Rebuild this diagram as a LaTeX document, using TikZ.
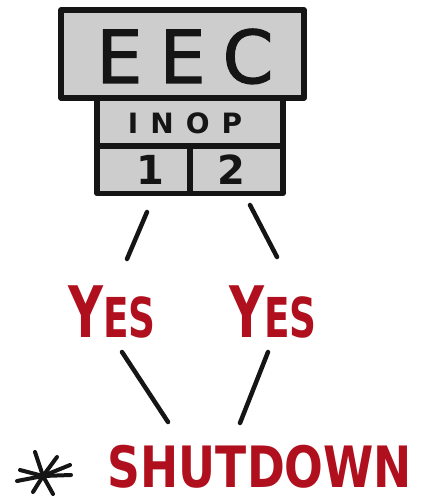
\documentclass[tikz,border=0pt]{standalone}
\usepackage{fontspec}
\setmainfont{DejaVu Sans}
\newfontfamily\eecfont[FakeBold=1.6]{DejaVu Sans}
\newfontfamily\yesfont[FakeStretch=0.68]{DejaVu Sans}
\newfontfamily\shutfont[FakeStretch=0.80]{DejaVu Sans}
\definecolor{boxgray}{HTML}{CDCDCD}
\definecolor{inkred}{HTML}{B0101E}
\definecolor{ink}{HTML}{151515}
\tikzset{
  panel/.style={draw=ink, line width=5.5pt, fill=boxgray, line join=round},
  stroke/.style={draw=ink, line width=4.5pt, line cap=round},
  redtxt/.style={text=inkred, inner sep=0pt},
  boxtxt/.style={text=ink, inner sep=0pt}
}
\begin{document}
\begin{tikzpicture}[x=1pt,y=-1pt]
\useasboundingbox (0,0) rectangle (425,502);
% boxes
\node[panel, minimum width=186pt, minimum height=95pt, inner sep=0pt] (inop) at (190,146) {};
\node[panel, minimum width=243pt, minimum height=88pt, inner sep=0pt] (eec) at (182.5,54) {};
\draw[draw=ink, line width=5.5pt] (inop.west |- 0,146) coordinate (hl) -- (inop.east |- 0,146) coordinate (hr);
\coordinate (vt) at (190,146);
\draw[draw=ink, line width=5.5pt] (vt) -- (vt |- inop.south);
% texts
\node[boxtxt, anchor=base, font=\eecfont\fontsize{73}{73}\selectfont] (eectxt) at (185,83) {E\hspace{17pt}E\hspace{17pt}C};
\node[boxtxt, anchor=base, font=\bfseries\fontsize{28}{28}\selectfont] (inoptxt) at (185,134) {I\hspace{12pt}N\hspace{12pt}O\hspace{12pt}P};
\node[boxtxt, anchor=base, font=\bfseries\fontsize{40}{40}\selectfont] (one) at (150,185) {1};
\node[boxtxt, anchor=base, font=\bfseries\fontsize{40}{40}\selectfont] (two) at (231,185) {2};
\node[redtxt, anchor=base, font=\yesfont\bfseries] (yes1) at (112,337) {\fontsize{71}{71}\selectfont Y\fontsize{55}{55}\selectfont ES};
\node[redtxt, anchor=base, font=\yesfont\bfseries] (yes2) at (273,337) {\fontsize{71}{71}\selectfont Y\fontsize{55}{55}\selectfont ES};
\node[redtxt, anchor=base, font=\shutfont\bfseries\fontsize{57}{57}\selectfont] (shut) at (260,487) {SHUTDOWN};
% connectors
\coordinate (a1) at (147,212); \coordinate (b1) at (127,259);
\coordinate (a2) at (250,205); \coordinate (b2) at (277,257);
\coordinate (c1) at (122,352); \coordinate (d1) at (168,422);
\coordinate (c2) at (268,352); \coordinate (d2) at (240,423);
\draw[stroke] (a1) -- (b1);
\draw[stroke] (a2) -- (b2);
\draw[stroke] (c1) -- (d1);
\draw[stroke] (c2) -- (d2);
% asterisk
\coordinate (star) at (43,476);
\foreach \px/\py in {35/452, 57/457, 70/465, 71/475, 20/470, 17/481, 33/492, 53/494}
  \draw[draw=ink, line width=4pt, line cap=round] (star) -- (\px,\py);
\end{tikzpicture}
\end{document}
